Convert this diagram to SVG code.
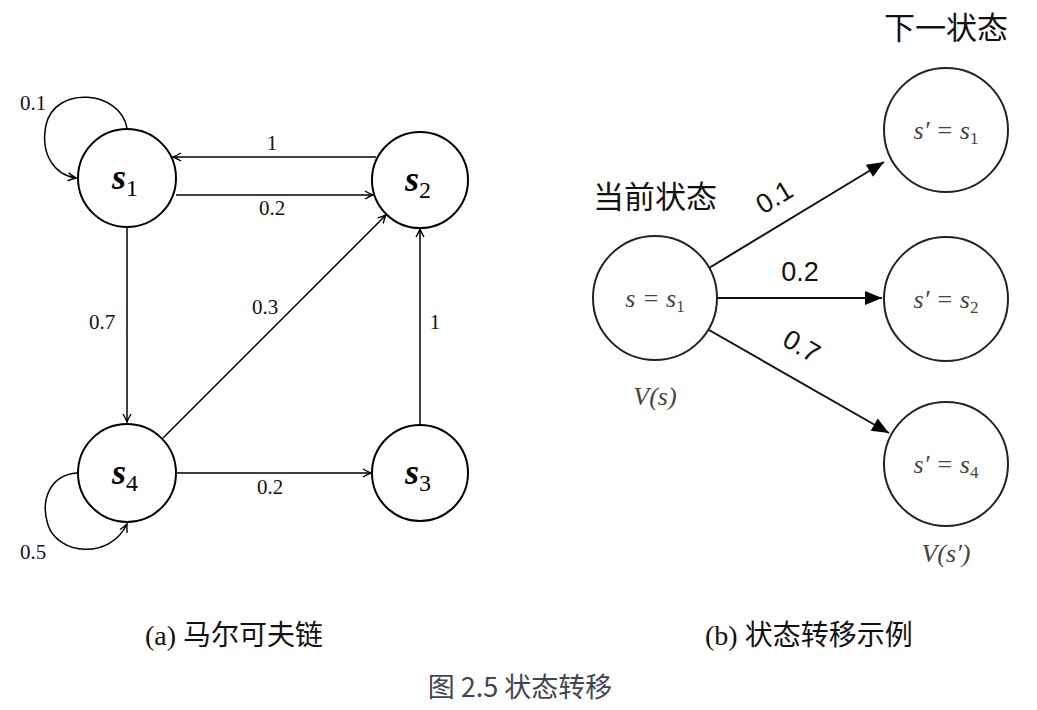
<svg xmlns="http://www.w3.org/2000/svg" width="1037" height="710" viewBox="0 0 1037 710">
<defs>
<style>
.nodeL{fill:#fff;stroke:#000;stroke-width:2}
.nodeR{fill:#fff;stroke:#222;stroke-width:2}
.edge{fill:none;stroke:#000;stroke-width:1.5}
.edgeR{fill:none;stroke:#111;stroke-width:2}
.num{font-family:"Liberation Serif",serif;font-size:21px;fill:#111;text-anchor:middle}
.math{font-family:"Liberation Serif",serif;font-style:italic;font-weight:bold;font-size:36px;fill:#000;text-anchor:middle}
.mathR{font-family:"Liberation Serif",serif;font-style:italic;font-size:26px;fill:#444;text-anchor:middle}
.cjk{font-family:"Noto Sans CJK SC",sans-serif;fill:#111;text-anchor:middle}
.lblR{font-family:"Liberation Sans",sans-serif;font-size:27px;fill:#111;text-anchor:middle}
.cap{font-family:"Liberation Serif","Noto Sans CJK SC",serif;font-size:28px;fill:#111}
.capc{font-family:"Noto Sans CJK SC",sans-serif;font-size:28px}
</style>
<marker id="ah" viewBox="-10 -6 12 12" markerWidth="12" markerHeight="12" refX="0" refY="0" orient="auto" markerUnits="userSpaceOnUse">
<path d="M-8,-4 Q-3,-1 0,0 Q-3,1 -8,4" fill="none" stroke="#000" stroke-width="1.4"/>
</marker>
<marker id="ahR" viewBox="-18 -8 20 16" markerWidth="20" markerHeight="16" refX="0" refY="0" orient="auto" markerUnits="userSpaceOnUse">
<path d="M-17,-7 L0,0 L-17,7 z" fill="#000"/>
</marker>
</defs>
<g id="connectors">
<path class="edge" d="M376,157 L173,157" marker-end="url(#ah)"/>
<path class="edge" d="M176,195 L373,195" marker-end="url(#ah)"/>
<path class="edge" d="M127,228 L127,422" marker-end="url(#ah)"/>
<path class="edge" d="M420,425 L420,229" marker-end="url(#ah)"/>
<path class="edge" d="M177,473 L371,473" marker-end="url(#ah)"/>
<path class="edge" d="M163,438 L386,215" marker-end="url(#ah)"/>
<path class="edge" d="M127,128 C120,90 55,85 46,125 C40,155 55,175 76,178" marker-end="url(#ah)"/>
<path class="edge" d="M77,473 C50,475 40,500 48,525 C58,555 110,560 127,524" marker-end="url(#ah)"/>
<text class="num" x="272" y="150">1</text>
<text class="num" x="272" y="215">0.2</text>
<text class="num" x="102" y="329">0.7</text>
<text class="num" x="265" y="314">0.3</text>
<text class="num" x="435" y="329">1</text>
<text class="num" x="270" y="494">0.2</text>
<text class="num" x="33" y="110">0.1</text>
<text class="num" x="33" y="559">0.5</text>
<path class="edgeR" d="M709,268 L884,162" marker-end="url(#ahR)"/>
<path class="edgeR" d="M717,298 L882,298" marker-end="url(#ahR)"/>
<path class="edgeR" d="M709,330 L889,433" marker-end="url(#ahR)"/>
<text class="lblR" x="0" y="0" transform="translate(779,205) rotate(-31)">0.1</text>
<text class="lblR" x="800" y="281">0.2</text>
<text class="lblR" x="0" y="0" transform="translate(797,354) rotate(30)">0.7</text>
</g>
<g id="s1">
<circle class="nodeL" cx="127" cy="178" r="49"/>
<text class="math" x="125" y="189">s<tspan font-size="24" font-style="normal" font-weight="normal" dy="7">1</tspan></text>
</g>
<g id="s2">
<circle class="nodeL" cx="420" cy="180" r="48"/>
<text class="math" x="418" y="191">s<tspan font-size="24" font-style="normal" font-weight="normal" dy="7">2</tspan></text>
</g>
<g id="s4">
<circle class="nodeL" cx="127" cy="473" r="49"/>
<text class="math" x="125" y="484">s<tspan font-size="24" font-style="normal" font-weight="normal" dy="7">4</tspan></text>
</g>
<g id="s3">
<circle class="nodeL" cx="420" cy="473" r="48"/>
<text class="math" x="418" y="484">s<tspan font-size="24" font-style="normal" font-weight="normal" dy="7">3</tspan></text>
</g>
<g id="current">
<text class="cjk" x="655" y="208" font-size="31">当前状态</text>
<circle class="nodeR" cx="655" cy="298" r="62"/>
<text class="mathR" x="655" y="307">s = s<tspan font-size="17" font-style="normal" dy="5">1</tspan></text>
<text class="mathR" x="655" y="405" font-size="28">V(s)</text>
</g>
<g id="next-title">
<text class="cjk" x="946" y="39" font-size="31">下一状态</text>
</g>
<g id="n1">
<circle class="nodeR" cx="946" cy="130" r="62"/>
<text class="mathR" x="946" y="139">s′ = s<tspan font-size="17" font-style="normal" dy="5">1</tspan></text>
</g>
<g id="n2">
<circle class="nodeR" cx="946" cy="299" r="62"/>
<text class="mathR" x="946" y="308">s′ = s<tspan font-size="17" font-style="normal" dy="5">2</tspan></text>
</g>
<g id="n4">
<circle class="nodeR" cx="946" cy="464" r="62"/>
<text class="mathR" x="946" y="473">s′ = s<tspan font-size="17" font-style="normal" dy="5">4</tspan></text>
<text class="mathR" x="946" y="562" font-size="28">V(s′)</text>
</g>
<g id="captions">
<text class="cap" x="145" y="645">(a) <tspan class="capc">马尔可夫链</tspan></text>
<text class="cap" x="705" y="645">(b) <tspan class="capc">状态转移示例</tspan></text>
<text x="520" y="697" font-family="Noto Sans CJK SC,sans-serif" font-size="27" fill="#3d4654" text-anchor="middle">图 2.5 状态转移</text>
</g>
</svg>
